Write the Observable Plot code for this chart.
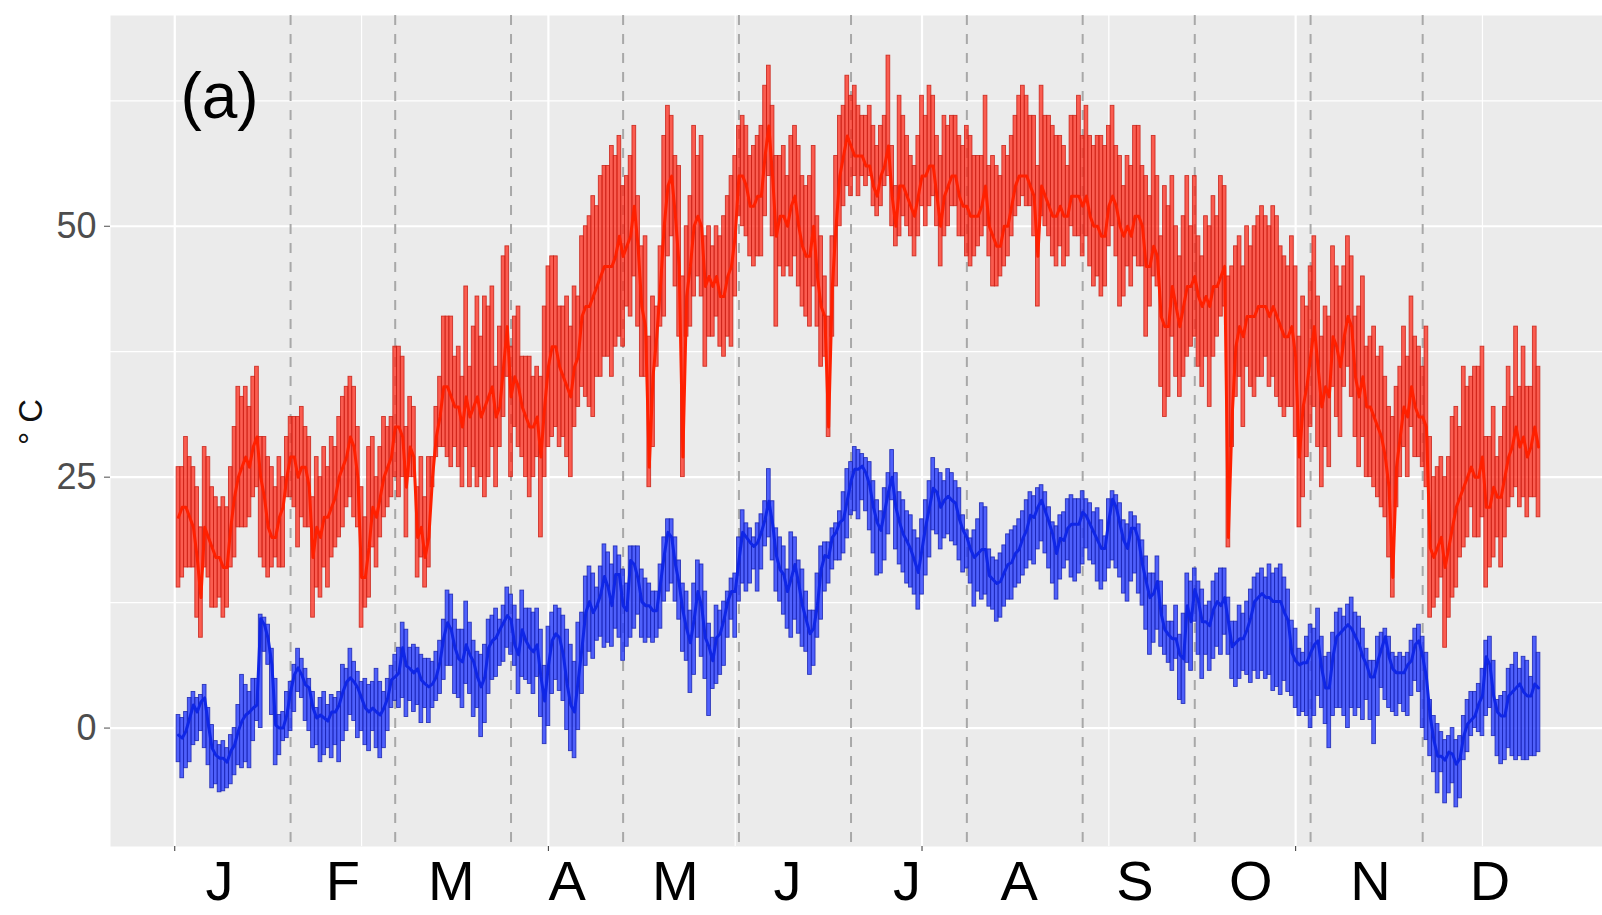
<!DOCTYPE html>
<html>
<head>
<meta charset="utf-8">
<script src="https://cdn.jsdelivr.net/npm/d3@7"></script>
<script src="https://cdn.jsdelivr.net/npm/@observablehq/plot@0.6"></script>
<style>
  html, body { margin: 0; padding: 0; background: #fff; overflow: hidden; }
  #chart svg { display: block; }
</style>
</head>
<body>
<div id="chart"></div>
<script>
// Axis labelling
const monthLetters = ["J", "F", "M", "A", "M", "J", "J", "A", "S", "O", "N", "D"];
const monthLabelDays = [12, 45, 74, 105, 134, 164, 196, 226, 257, 288, 320, 352];
const monthEnds = [31, 59, 90, 120, 151, 181, 212, 243, 273, 304, 334];
const yTicks = [0, 25, 50];
const yMinorTicks = [12.5, 37.5, 62.5];
const xTicks = [0, 100, 200, 300];
const xMinorTicks = [50, 150, 250, 350];

// Daily upper series (°C): max, min and mean, one line per month
const redMax = [
  26,26,29,27,26,24,20,28,27,24,23,22,23,22,26,30,34,33,34,32,35,36,29,29,27,26,24,27,25,29,31,
  31,31,32,30,29,23,27,25,28,26,29,28,31,33,34,35,34,30,24,21,28,29,25,28,31,30,31,38,
  38,37,30,33,32,24,27,23,27,27,32,35,41,41,41,37,38,35,44,36,40,43,39,43,42,44,36,40,47,48,38,
  41,42,37,37,37,35,36,35,42,46,47,47,42,42,43,40,44,43,49,50,51,53,52,55,56,56,58,57,59,54,
  55,57,60,53,48,49,39,43,42,48,59,62,61,57,56,45,50,53,60,57,59,49,50,48,50,49,51,53,55,57,60,
  61,60,57,58,59,60,64,66,62,57,57,58,55,59,60,58,55,54,55,58,51,49,45,41,49,57,61,62,65,63,
  64,62,61,61,62,60,58,60,61,67,58,54,63,61,59,57,56,59,63,61,64,63,59,57,61,60,61,61,59,58,60,
  59,57,57,57,63,56,57,56,55,58,57,59,61,63,64,63,61,61,56,64,61,61,60,59,59,58,56,61,61,63,59,
  62,59,58,59,59,58,60,62,58,57,54,57,56,60,60,56,55,53,59,55,49,54,52,55,50,47,51,55,50,55,
  49,47,51,50,53,51,55,54,45,46,48,49,46,50,48,50,51,52,51,50,52,51,48,47,46,49,46,39,43,42,46,
  49,43,39,42,41,48,46,44,46,49,47,41,42,45,38,39,40,37,38,35,32,31,34,36,40,37,43,39,38,36,
  40,29,25,26,27,25,27,31,32,30,36,34,35,36,36,38,29,29,32,27,29,32,36,33,40,34,38,34,34,40,36
];
const redMin = [
  14,15,16,16,16,11,9,16,15,12,12,13,11,12,16,17,20,20,20,21,23,24,17,16,15,16,17,16,16,23,23,
  22,18,21,20,20,11,14,13,16,14,17,18,19,20,22,23,21,20,10,12,13,18,16,19,21,22,23,25,
  23,25,19,25,25,15,17,14,16,24,27,28,28,27,26,28,26,24,28,24,26,24,25,23,25,28,24,28,31,35,25,
  30,28,27,25,23,25,27,19,25,28,29,30,28,29,27,25,30,32,34,33,32,31,35,35,37,37,35,38,39,38,
  42,41,45,40,35,35,24,28,36,40,41,47,49,44,39,25,39,40,43,45,43,36,39,39,41,38,37,39,38,43,51,
  50,49,47,46,47,47,51,55,49,40,46,45,46,45,47,44,42,41,40,44,40,36,37,29,39,44,50,52,54,53,
  55,53,55,54,55,52,51,52,54,55,50,48,49,51,50,49,47,49,52,50,52,53,50,46,49,50,52,52,49,49,47,
  46,47,48,49,50,47,44,44,45,46,47,49,51,52,53,52,52,49,42,51,50,49,47,46,48,46,47,50,49,49,47,
  49,46,44,45,43,44,48,50,47,42,43,46,44,47,46,46,39,42,45,44,34,31,33,39,35,33,35,37,38,39,
  36,34,37,32,37,39,41,42,18,28,33,35,30,36,34,33,35,35,37,34,35,33,32,31,32,32,29,20,23,27,30,
  32,28,24,28,26,34,31,29,34,36,33,29,26,29,25,25,24,23,22,21,17,13,22,25,28,25,30,27,27,26,
  24,11,12,13,15,8,11,13,14,17,18,19,22,19,19,21,14,16,17,19,16,19,22,23,24,22,23,21,23,23,21
];
const redMean = [
  21,22,22,21,20,17,13,20,19,18,17,17,16,16,20,23,25,26,27,26,28,29,25,23,20,19,19,21,22,25,27,
  27,25,26,26,24,17,20,19,21,21,22,23,25,26,27,29,28,25,15,15,18,22,21,23,25,26,27,30,
  30,29,24,28,27,19,20,17,19,25,29,31,34,34,33,32,32,30,33,31,32,33,31,32,33,34,31,32,36,40,33,
  35,34,32,31,30,30,31,27,32,36,38,38,36,35,34,33,36,37,41,42,42,43,44,45,46,46,46,47,49,47,
  48,49,52,48,42,40,26,35,39,44,50,54,55,51,46,27,43,46,50,51,50,44,45,44,45,43,43,45,46,49,55,
  55,54,52,52,53,53,57,60,55,49,51,51,50,52,53,50,48,47,47,50,45,42,41,30,44,50,55,57,59,58,
  57,57,57,56,56,54,53,55,56,58,53,50,54,54,53,52,51,53,55,55,56,56,53,50,53,54,55,55,53,52,52,
  51,51,51,52,54,50,49,48,48,50,50,52,54,55,55,55,54,53,47,54,53,52,51,51,52,51,51,53,53,53,52,
  53,51,50,50,49,49,52,53,52,50,49,50,49,51,51,50,46,46,48,47,41,40,40,44,42,40,42,44,44,45,
  43,42,43,42,44,44,45,46,19,31,38,40,39,41,41,41,42,42,42,41,42,41,40,39,39,40,37,27,32,34,37,
  40,36,32,34,33,39,38,36,39,41,40,35,33,35,32,32,31,30,29,27,24,15,26,29,32,31,34,32,31,31,
  30,18,17,18,19,16,18,20,22,23,24,25,26,25,25,27,22,22,24,23,23,25,27,28,30,28,29,27,28,30,28
];

// Daily lower series (°C): max, min and mean, one line per month
const blueMax = [
  1.3,1.0,1.6,3.0,3.6,3.0,3.3,4.3,2.0,0.3,-1.3,-1.7,-1.3,-2.0,-0.7,0.0,2.3,5.3,4.3,3.6,4.9,4.9,11.3,11.0,10.3,7.9,4.9,1.3,1.6,3.6,4.6,
  6.3,7.9,6.9,5.9,4.9,3.6,2.0,3.0,3.6,2.3,3.3,3.0,3.6,6.3,5.9,7.9,6.6,5.6,4.6,4.9,4.3,4.6,5.9,4.6,3.6,4.9,6.2,7.3,
  8.0,10.5,9.8,8.0,8.3,8.0,7.3,6.9,6.9,6.6,7.6,8.7,10.8,13.7,13.3,10.8,9.8,9.8,12.6,10.5,8.7,7.6,7.3,8.3,10.8,11.2,11.9,10.8,12.2,14.0,13.3,
  12.2,10.8,13.7,11.9,11.9,11.5,11.9,9.8,6.2,10.1,11.5,12.2,11.9,11.2,9.8,8.3,6.6,10.5,11.5,15.1,16.1,15.4,14.0,16.1,18.3,17.5,16.3,18.1,17.2,15.8,
  14.4,18.1,18.1,18.1,15.8,14.9,14.4,13.6,13.6,16.3,19.0,20.8,20.8,19.0,16.7,14.4,13.6,11.7,14.4,16.7,16.3,13.6,10.4,9.0,12.2,11.7,12.6,13.6,14.9,15.4,19.0,
  21.7,20.4,19.9,19.0,20.4,21.3,22.6,25.8,22.6,19.9,19.0,18.1,15.8,19.5,19.0,16.7,15.8,13.6,11.7,11.7,15.4,18.1,18.5,18.5,19.9,20.4,21.6,23.5,25.8,26.5,
  28.0,27.7,27.3,26.9,26.5,24.6,22.7,21.6,23.9,25.4,27.7,25.4,23.5,22.7,21.6,21.2,19.7,18.9,20.8,22.7,24.6,26.9,25.8,25.4,24.6,25.8,25.4,24.6,23.9,21.2,19.7,
  18.9,19.7,20.8,22.4,22.0,17.8,17.0,16.7,17.4,18.2,19.3,19.7,20.1,20.8,21.6,22.7,23.5,23.1,23.9,24.2,23.5,22.0,20.5,20.1,21.2,21.5,22.8,23.2,22.8,22.8,23.6,
  22.8,22.4,21.5,21.9,20.7,19.1,22.8,23.6,23.2,22.4,20.7,20.3,21.5,21.1,20.3,18.7,17.1,15.4,15.4,17.1,14.6,12.2,10.6,10.6,12.2,9.3,11.4,15.4,14.6,15.9,
  14.6,13.8,12.2,12.6,14.6,15.4,15.9,15.9,13.0,10.6,10.6,12.2,11.4,12.6,13.8,15.0,15.4,15.9,15.0,16.3,15.4,15.9,16.3,15.0,13.8,10.7,9.9,7.9,7.5,9.1,10.3,
  9.9,11.9,9.1,7.1,7.5,9.5,11.5,11.9,11.1,12.3,13.0,11.5,11.1,9.9,7.9,6.7,6.7,9.1,9.5,9.9,9.1,7.5,7.1,7.5,7.1,7.5,8.7,9.9,10.3,9.1,
  7.5,2.8,1.2,0.4,-0.4,-1.2,-0.8,0.0,-1.2,-0.8,1.2,2.8,3.6,3.6,4.4,5.9,8.7,9.1,6.7,2.8,3.2,3.6,5.9,6.3,7.5,5.9,7.1,6.7,5.1,9.1,7.5
];
const blueMin = [
  -3.4,-5.0,-4.0,-3.4,-1.7,-1.3,-0.3,-2.0,-3.7,-6.0,-5.6,-6.4,-6.3,-6.0,-5.6,-4.7,-3.7,-4.0,-3.4,-4.0,-1.3,0.7,0.0,7.6,6.3,1.3,-3.7,-2.7,-1.3,-1.0,-0.3,
  1.6,3.6,3.0,0.7,-0.3,-2.0,-1.7,-3.4,-2.7,-2.0,-3.0,-1.7,-3.4,-1.3,-0.3,1.3,0.7,-1.0,-0.3,-1.7,-2.3,-0.3,-2.0,-3.0,-2.0,-0.3,2.0,2.7,
  2.0,3.0,1.1,2.7,1.6,2.3,0.5,2.0,0.5,2.0,2.7,3.4,4.8,6.2,6.2,3.4,3.0,2.0,4.4,3.4,1.1,2.0,-0.9,0.5,3.4,4.8,5.1,6.2,6.6,8.0,7.3,
  6.2,3.4,5.1,4.8,4.4,3.4,5.1,1.1,-1.6,0.2,3.4,4.8,3.7,2.7,-0.2,-2.3,-3.0,-0.2,3.4,6.2,7.6,6.9,8.7,9.1,8.0,8.5,8.1,9.9,9.0,6.7,
  8.1,9.0,9.9,11.3,9.0,8.5,9.0,8.5,9.0,9.9,12.6,13.6,14.4,12.6,10.8,7.6,6.7,3.5,5.3,9.0,7.1,4.9,1.2,3.9,4.4,5.3,6.2,9.0,10.8,9.0,12.6,
  14.4,13.6,14.4,15.8,13.6,15.8,18.1,19.0,16.7,13.6,12.6,11.3,9.9,9.0,10.8,9.4,8.1,7.6,5.3,6.2,9.0,10.8,13.6,14.4,15.8,16.7,16.7,17.4,18.9,21.2,
  21.6,20.8,22.7,21.6,19.7,17.4,15.2,15.4,16.7,19.3,22.7,17.8,16.3,15.5,14.4,14.0,13.3,11.8,13.3,15.2,17.0,19.7,19.3,17.8,18.9,19.3,18.6,18.2,16.7,15.5,15.9,
  14.4,12.1,13.6,12.8,13.3,12.1,11.8,10.6,11.0,12.1,12.8,12.8,14.0,14.4,15.2,15.9,16.7,16.3,17.8,18.6,17.4,15.9,14.4,12.8,14.8,15.9,16.7,15.0,14.6,15.4,16.3,
  17.9,16.7,16.3,14.6,13.8,14.6,15.9,16.7,15.9,15.0,13.4,12.6,14.6,15.4,13.4,12.2,9.8,7.3,8.5,9.8,8.1,7.3,6.5,5.7,6.9,2.8,2.4,6.5,5.7,10.6,
  7.3,4.9,7.3,5.7,6.9,8.1,7.3,9.3,7.3,4.9,4.1,4.9,5.7,5.3,4.5,5.7,4.9,5.7,4.9,5.3,3.7,4.1,3.3,4.7,3.6,3.2,2.0,1.2,1.6,1.2,0.0,
  1.2,3.2,2.0,0.4,-2.0,1.2,2.0,2.0,1.2,0.0,2.0,1.2,2.0,0.8,2.8,0.8,-1.6,1.2,4.0,2.8,2.0,1.6,1.2,2.4,1.6,1.2,3.2,4.7,3.6,0.0,
  -1.2,-2.8,-4.4,-6.5,-4.4,-7.5,-6.5,-5.5,-7.9,-7.0,-3.2,-2.4,-0.8,0.0,-0.4,-0.8,1.2,2.0,-0.8,-2.8,-3.6,-3.2,-2.0,-2.8,-3.2,-2.8,-3.2,-3.2,-2.8,-2.8,-2.4
];
const blueMean = [
  -0.7,-1.0,-0.3,1.0,2.3,1.6,2.6,3.0,0.3,-2.0,-2.7,-3.0,-3.0,-3.4,-2.3,-1.7,-0.3,0.7,1.3,1.6,2.0,2.3,10.9,10.3,8.9,6.3,0.3,0.0,0.0,1.3,3.6,
  5.3,6.0,5.3,4.3,4.0,2.0,1.0,1.3,1.0,0.7,1.6,1.6,2.3,3.6,4.6,5.0,4.6,4.0,3.0,2.0,1.6,2.0,1.6,1.3,2.0,3.0,4.8,5.1,
  5.5,8.0,6.2,5.9,5.5,5.9,4.8,4.4,4.1,4.4,5.1,6.6,9.0,10.5,9.8,8.0,6.9,6.6,8.3,7.3,6.6,5.1,4.1,5.1,8.0,8.7,9.0,9.8,10.5,11.2,10.8,
  8.3,7.3,9.8,8.7,8.0,7.6,8.3,5.1,2.7,6.2,8.7,9.4,9.0,7.3,4.4,2.3,1.6,4.8,8.0,11.5,12.6,11.5,12.2,13.3,15.1,14.0,12.2,15.3,15.3,12.2,
  11.7,16.7,16.3,14.9,12.6,12.2,12.2,11.7,11.7,14.4,17.2,19.5,19.0,16.3,14.4,11.7,9.9,8.5,10.8,13.6,12.2,9.0,8.1,6.7,9.0,9.4,10.8,12.6,13.6,13.6,16.7,
  19.5,19.0,18.5,18.1,18.5,19.5,20.8,22.6,20.4,17.2,15.8,15.3,13.6,14.9,16.3,14.4,12.2,10.8,9.4,9.9,12.2,15.8,17.2,17.0,19.0,19.5,20.5,20.8,22.7,24.6,
  25.8,25.8,26.1,25.4,24.2,22.0,20.5,19.7,21.6,23.5,25.0,22.0,20.5,19.3,18.6,17.8,16.7,15.5,17.8,20.1,22.0,23.9,23.5,22.0,22.7,23.1,22.7,22.4,20.8,19.7,19.0,
  17.8,17.0,17.4,17.8,17.8,15.2,14.8,14.4,14.6,15.5,16.3,16.5,17.4,17.8,18.9,19.7,21.2,21.0,22.0,22.7,21.6,20.5,19.3,17.4,18.9,18.7,19.9,20.3,20.3,20.3,21.5,
  21.1,20.3,19.5,18.7,17.9,17.9,20.7,22.8,22.0,20.3,18.7,17.9,19.9,19.9,18.7,16.3,14.6,13.0,13.4,14.6,11.4,9.8,9.3,8.9,8.9,7.3,6.9,12.2,10.6,13.8,
  12.6,10.6,10.6,10.2,11.8,12.6,12.2,13.0,10.6,8.1,8.5,8.9,8.9,9.8,11.0,12.6,13.0,13.4,13.0,13.0,12.6,12.6,12.6,11.5,10.7,7.5,6.7,6.3,6.5,6.5,7.5,
  8.3,8.7,5.9,4.0,4.0,7.1,9.1,9.5,9.9,10.3,9.9,9.1,8.3,7.1,6.3,5.1,5.1,6.7,7.9,9.1,7.1,5.9,5.5,5.5,5.5,6.3,6.7,8.3,8.7,7.1,
  5.1,1.2,-1.2,-2.8,-2.8,-3.2,-2.4,-2.6,-3.6,-3.0,-0.8,0.4,0.8,1.2,2.4,3.2,7.1,6.3,3.2,1.6,1.2,1.2,3.2,3.6,4.0,4.4,3.6,3.2,3.2,4.4,4.0
];

const named = {redMax, redMin, redMean, blueMax, blueMin, blueMean};
for (const [name, arr] of Object.entries(named)) {
  if (arr.length !== 365) throw new Error(`${name} has ${arr.length} values`);
}

const series = d3.range(365).map(i => ({
  day: i + 1,
  rMax: redMax[i], rMin: redMin[i], rMean: redMean[i],
  bMax: blueMax[i], bMin: blueMin[i], bMean: blueMean[i]
}));

const labelOf = new Map(monthLabelDays.map((d, i) => [d, monthLetters[i]]));
const sans = "'Liberation Sans', Arial, Helvetica, sans-serif";
const narrow = "'Liberation Sans Narrow', 'Arial Narrow', 'Liberation Sans', sans-serif";

const chart = Plot.plot({
  width: 1602,
  height: 915,
  marginLeft: 110,
  marginRight: 0,
  marginTop: 15,
  marginBottom: 69,
  style: {background: "#fff", fontFamily: sans},
  x: {domain: [-17.2, 383.2], range: [110, 1606], label: null},
  y: {domain: [-11.8, 71], label: null},
  marks: [
    Plot.frame({fill: "#ebebeb", stroke: "none"}),
    Plot.gridY(yMinorTicks, {stroke: "#fff", strokeOpacity: 1, strokeWidth: 1.2}),
    Plot.gridX(xMinorTicks, {stroke: "#fff", strokeOpacity: 1, strokeWidth: 1.2}),
    Plot.gridY(yTicks, {stroke: "#fff", strokeOpacity: 1, strokeWidth: 2.2}),
    Plot.gridX(xTicks, {stroke: "#fff", strokeOpacity: 1, strokeWidth: 2.2}),
    Plot.ruleX(monthEnds, {stroke: "#a8a8a8", strokeWidth: 2, strokeDasharray: "10,9"}),

    // upper series: daily range bars and mean line
    Plot.rect(series, {
      x1: d => d.day - 0.5, x2: d => d.day + 0.5, y1: "rMin", y2: "rMax",
      fill: "#ff2a1a", fillOpacity: 0.74, stroke: "#c81e14", strokeOpacity: 0.85, strokeWidth: 0.9
    }),
    Plot.line(series, {x: "day", y: "rMean", stroke: "#ff2000", strokeWidth: 3}),

    // lower series: daily range bars and mean line
    Plot.rect(series, {
      x1: d => d.day - 0.5, x2: d => d.day + 0.5, y1: "bMin", y2: "bMax",
      fill: "#2238ff", fillOpacity: 0.78, stroke: "#1822b0", strokeOpacity: 0.85, strokeWidth: 0.9
    }),
    Plot.line(series, {x: "day", y: "bMean", stroke: "#0f26e6", strokeWidth: 3}),

    Plot.axisY(yTicks, {tickSize: 6, tickPadding: 8, fontSize: 36, color: "#4d4d4d", label: null}),
    Plot.axisX(xTicks, {tickSize: 5, tickFormat: () => "", color: "#333", label: null}),
    Plot.axisX(monthLabelDays, {
      tickSize: 0, tickPadding: 14, tickFormat: d => labelOf.get(d),
      fontSize: 56, fontFamily: narrow, color: "#000", label: null
    }),
    Plot.text(["(a)"], {
      frameAnchor: "top-left", dx: 109, dy: 57, textAnchor: "middle", lineAnchor: "top",
      fontSize: 64, fill: "#000"
    }),
    Plot.text(["° C"], {frameAnchor: "left", dx: -79, dy: 14, rotate: -90, fontSize: 33, fill: "#111"})
  ]
});

document.getElementById("chart").appendChild(chart);
</script>
</body>
</html>
